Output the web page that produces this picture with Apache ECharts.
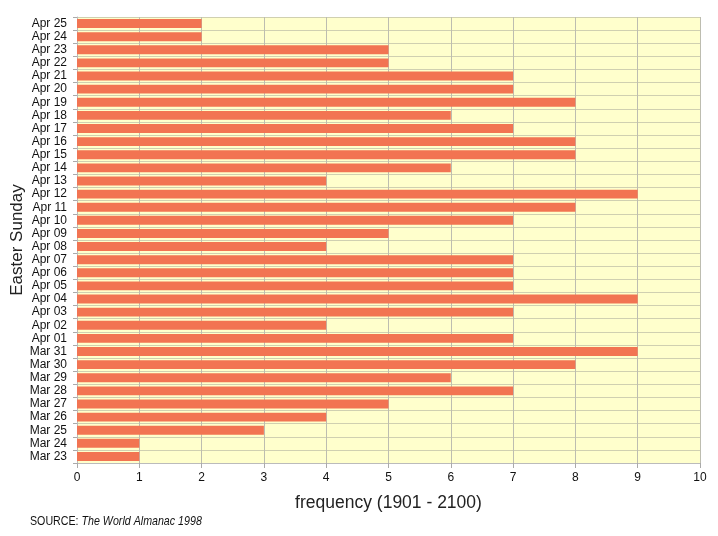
<!DOCTYPE html>
<html><head><meta charset="utf-8">
<script src="https://cdn.jsdelivr.net/npm/echarts@6/dist/echarts.min.js"></script>
<style>html,body{margin:0;padding:0;background:#fff}#c{width:718px;height:536px}</style>
</head><body><div id="c"></div>
<script>
const categories = ["Mar 23","Mar 24","Mar 25","Mar 26","Mar 27","Mar 28","Mar 29","Mar 30","Mar 31","Apr 01","Apr 02","Apr 03","Apr 04","Apr 05","Apr 06","Apr 07","Apr 08","Apr 09","Apr 10","Apr 11","Apr 12","Apr 13","Apr 14","Apr 15","Apr 16","Apr 17","Apr 18","Apr 19","Apr 20","Apr 21","Apr 22","Apr 23","Apr 24","Apr 25"];
const frequency = [1,1,3,4,5,7,6,8,9,7,4,7,9,7,7,7,4,5,7,8,9,4,6,8,8,7,6,8,7,7,5,5,2,2];
const xTicks = [0,1,2,3,4,5,6,7,8,9,10];

const chart = echarts.init(document.getElementById('c'), null, {renderer:'canvas'});
const font = 'Liberation Sans, Arial, sans-serif';
chart.setOption({
  animation:false,
  backgroundColor:'#ffffff',
  grid:{left:77,right:18,top:17,bottom:73,show:true,backgroundColor:'#ffffcc',borderWidth:0,containLabel:false,outerBoundsMode:'none'},
  xAxis:{
    type:'value',min:xTicks[0],max:xTicks[xTicks.length-1],interval:1,
    name:'frequency (1901 - 2100)',nameLocation:'middle',nameGap:31,nameMoveOverlap:false,
    nameTextStyle:{fontFamily:font,fontSize:17.5,color:'#222'},
    axisLine:{show:true,lineStyle:{color:'#bbbbbb'}},
    axisTick:{show:true,length:5,lineStyle:{color:'#aaaaaa'}},
    axisLabel:{fontFamily:font,fontSize:12,color:'#111',margin:9},
    splitLine:{show:true,lineStyle:{color:'#bdbdb0',width:1}}
  },
  yAxis:{
    type:'category',data:categories,
    name:'Easter Sunday',nameLocation:'middle',nameGap:51,nameMoveOverlap:false,
    nameTextStyle:{fontFamily:font,fontSize:17,color:'#222'},
    axisLine:{show:true,lineStyle:{color:'#bbbbbb'}},
    axisTick:{show:true,length:4,interval:0,lineStyle:{color:'#aaaaaa'}},
    axisLabel:{fontFamily:font,fontSize:12,color:'#111',margin:10,interval:0},
    splitLine:{show:true,interval:0,lineStyle:{color:'#d0d0b0',width:1}}
  },
  series:[{
    type:'bar',data:frequency,barCategoryGap:'32%',
    itemStyle:{color:'#f27452'}
  }],
  graphic:[{
    type:'text',left:30,top:515,scaleX:0.82,
    style:{
      text:'{a|SOURCE: }{b|The World Almanac 1998}',
      rich:{
        a:{fontFamily:font,fontSize:13,fill:'#111'},
        b:{fontFamily:font,fontSize:13,fontStyle:'italic',fill:'#111'}
      }
    }
  }]
});
</script></body></html>
